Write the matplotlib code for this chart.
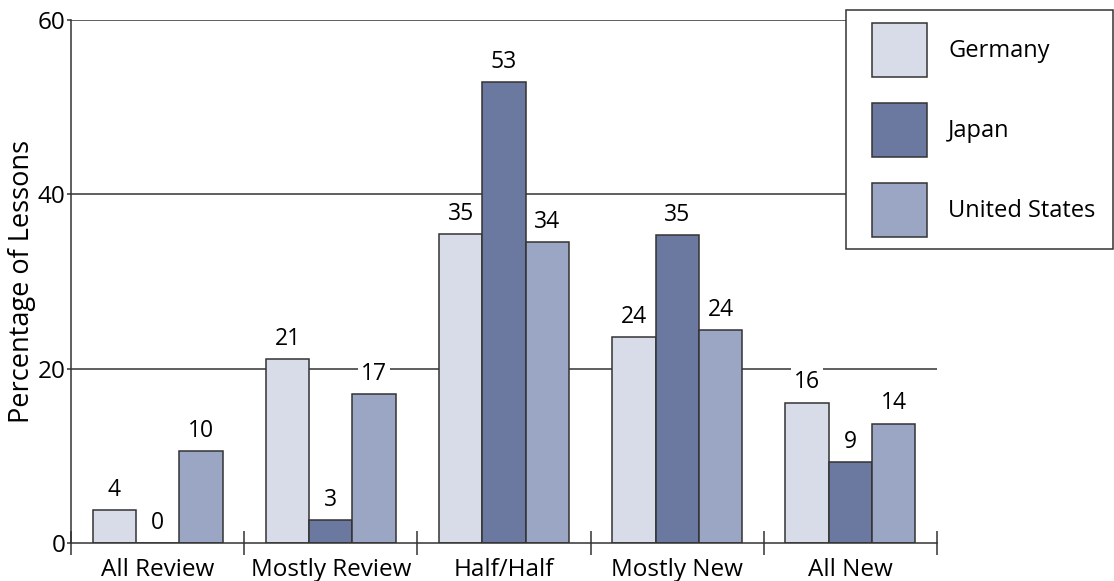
import numpy as np
import matplotlib
matplotlib.use('Agg')
import matplotlib.pyplot as plt
from matplotlib.patches import Rectangle

plt.rcParams['font.family'] = ['Open Sans', 'DejaVu Sans']

# categories and values (percentage of lessons)
categories = ['All Review', 'Mostly Review', 'Half/Half', 'Mostly New', 'All New']
countries = ['Germany', 'Japan', 'United States']
germany = [3.8, 21.1, 35.4, 23.6, 16.1]
japan = [0.0, 2.6, 52.9, 35.3, 9.3]
usa = [10.5, 17.1, 34.5, 24.4, 13.7]
germany_lbl = [4, 21, 35, 24, 16]
japan_lbl = [0, 3, 53, 35, 9]
usa_lbl = [10, 17, 34, 24, 14]
colors = ['#d8dce8', '#6b79a0', '#9ba6c4']

W, H = 1114, 581
fig = plt.figure(figsize=(W / 100, H / 100), dpi=100)
ax = fig.add_axes([71 / W, 1 - 543 / H, (937 - 71) / W, (543 - 20) / H])

x = np.arange(len(categories))
w = 0.25
series = [germany, japan, usa]
labels = [germany_lbl, japan_lbl, usa_lbl]
edge = '#333333'

# gridlines (the upper ones stop at the legend box)
ax.axhline(20, color=edge, lw=1.1, zorder=0)
for yv in [40, 60]:
    ax.axhline(yv, xmax=(846 - 71) / (937 - 71), color=edge, lw=1.1, zorder=0)

for i, (vals, lab) in enumerate(zip(series, labels)):
    bars = ax.bar(x + (i - 1) * w, vals, w, color=colors[i], edgecolor=edge,
                  linewidth=1.1, zorder=2)
    for b, v, t in zip(bars, vals, lab):
        ax.annotate(str(t), (b.get_x() + b.get_width() / 2, v), xytext=(0, 6),
                    textcoords='offset points', ha='center', va='bottom', fontsize=16.5,
                    bbox=dict(boxstyle='square,pad=0.12', fc='white', ec='none'), zorder=3)

ax.set_xlim(-0.5, len(categories) - 0.5)
ax.set_ylim(0, 60)
ax.set_yticks([0, 20, 40, 60])
ax.tick_params(axis='y', length=3, width=1.1, color=edge, labelsize=17.5, pad=1)
ax.set_xticks(x)
ax.set_xticklabels(categories, fontsize=17.5)
ax.set_xticks(np.arange(-0.5, len(categories)), minor=True)
ax.tick_params(axis='x', which='major', length=0, pad=11)
ax.tick_params(axis='x', which='minor', length=17, direction='inout', width=1.1, color=edge)
ax.set_ylabel('Percentage of Lessons', fontsize=19.5, labelpad=1)

for s in ['top', 'right']:
    ax.spines[s].set_visible(False)
for s in ['left', 'bottom']:
    ax.spines[s].set_color(edge)
    ax.spines[s].set_linewidth(1.1)

# legend box drawn by hand (figure pixel coordinates, y from top)
def fr(x0, y0, x1, y1, **kw):
    return Rectangle((x0 / W, 1 - y1 / H), (x1 - x0) / W, (y1 - y0) / H,
                     transform=fig.transFigure, **kw)

fig.patches.append(fr(846, 10, 1113, 249, facecolor='white', edgecolor=edge, lw=1.1))
for i, name in enumerate(countries):
    top = 23 + i * 80
    fig.patches.append(fr(872, top, 927, top + 54, facecolor=colors[i], edgecolor=edge, lw=1.1))
    fig.text(948 / W, 1 - (top + 28) / H, name, fontsize=17, va='center', ha='left')

fig.savefig('out.png', dpi=100)
